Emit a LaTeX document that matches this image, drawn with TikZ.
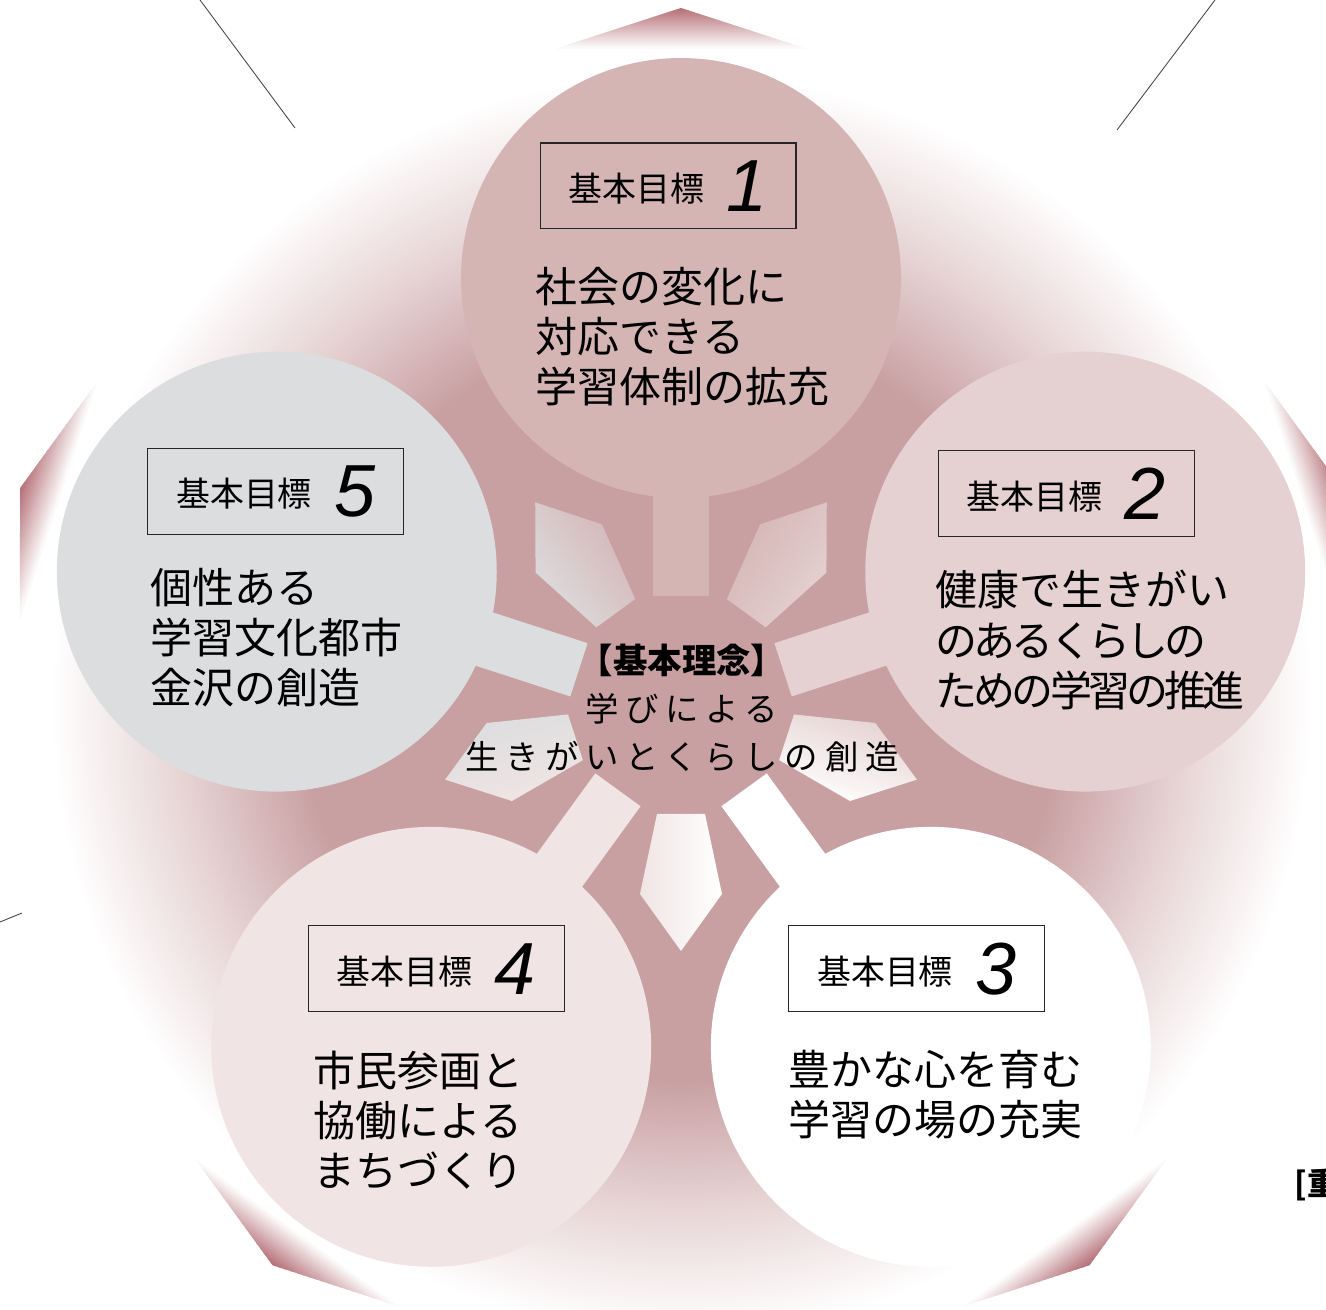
\documentclass[tikz,border=0pt]{standalone}
\usepackage{fontspec}
\usetikzlibrary{calc, backgrounds}

\newfontfamily\jpfont{Noto Sans CJK JP}
\newfontfamily\jpnarrow{Noto Sans CJK JP}[LetterSpace=-9]
\newfontfamily\creedfont{Noto Sans CJK JP}[LetterSpace=20]
\newfontfamily\numfont{Liberation Sans}

\definecolor{rosebg}{RGB}{201,160,162}
\definecolor{cornerred}{RGB}{181,114,120}
\definecolor{petalA}{RGB}{213,180,180}
\definecolor{petalB}{RGB}{229,209,209}
\definecolor{petalC}{RGB}{255,255,255}
\definecolor{petalD}{RGB}{240,229,228}
\definecolor{petalE}{RGB}{220,221,223}
\definecolor{leadergray}{RGB}{70,70,70}

\pgfdeclareradialshading{roseglow}{\pgfpoint{0bp}{0bp}}{%
  color(0bp)=(rosebg); color(15bp)=(rosebg); color(20bp)=(rosebg!45!white);
  color(25bp)=(white); color(50bp)=(white)}

\newcommand{\goalno}[1]{\raisebox{-2mm}{\numfont\itshape\fontsize{42}{42}\selectfont #1}}

\begin{document}
\begin{tikzpicture}[x=0.02cm, y=0.02cm,
  petal/.style={circle, minimum size=8.8cm, inner sep=0pt},
  hub/.style={circle, minimum size=4.28cm, inner sep=0pt},
  goalbox/.style={draw=black!85, line width=0.6pt, minimum width=5.12cm,
    minimum height=1.72cm, inner sep=0pt,
    font=\jpfont\fontsize{19.3}{22}\selectfont},
  aim/.style={align=left, inner sep=0pt, anchor=west,
    font=\jpfont\fontsize{23.9}{28.5}\selectfont},
  creed/.style={align=center, inner sep=0pt,
    font=\creedfont\fontsize{19}{27.3}\selectfont},
  spoke/.style={line width=1.12cm, shorten >=-0.4cm},
  leader/.style={draw=leadergray, line width=0.5pt}]

\useasboundingbox (0,0) rectangle (1326,1310);
\coordinate (C) at (681,607);

% five petals round the hub
\foreach \i/\ang/\col in {1/90/petalA, 2/18/petalB, 3/-54/petalC, 4/-126/petalD, 5/162/petalE} {
    \node[petal, fill=\col] (goal\i) at ($(C)+(\ang:425)$) {};
};
\node[hub] (hub) at (C) {};
\node[creed] (creed) at ([shift={(1,-5)}]hub.center)
    {{\jpfont\bfseries\fontsize{19.6}{27.3}\selectfont 【基本理念】}\\
     学びによる\\
     生きがいとくらしの創造};

% goal boxes
\node[goalbox] (box1) at ($(goal1)+(-13,92)$) {基本目標\hspace{4.5mm}\goalno{1}};
\node[goalbox] (box2) at ($(goal2)+(-19,78)$) {基本目標\hspace{4.5mm}\goalno{2}};
\node[goalbox] (box3) at ($(goal3)+(-14,78)$) {基本目標\hspace{4.5mm}\goalno{3}};
\node[goalbox] (box4) at ($(goal4)+(5,78)$) {基本目標\hspace{4.5mm}\goalno{4}};
\node[goalbox] (box5) at ($(goal5)+(-1,80)$) {基本目標\hspace{4.5mm}\goalno{5}};

% goal texts
\node[aim] (aim1) at (535,973) {社会の変化に\\対応できる\\学習体制の拡充};
\node[aim] (aim2) at (935,670) {健康で生きがい\\{\jpnarrow のあるくらしの}\\{\jpnarrow ための学習の推進}};
\node[aim] (aim3) at (788,215) {豊かな心を育む\\学習の場の充実};
\node[aim] (aim4) at (313,190) {市民参画と\\協働による\\まちづくり};
\node[aim] (aim5) at (150,672) {個性ある\\学習文化都市\\金沢の創造};

% leader lines cut by the page
\coordinate (leadNW) at (200,1310);
\coordinate (leadNWend) at (295,1182);
\coordinate (leadNE) at (1215,1310);
\coordinate (leadNEend) at (1117,1180);
\coordinate (leadW) at (0,388);
\coordinate (leadWend) at (22,397);
\draw[leader] (leadNW) -- (leadNWend);
\draw[leader] (leadNE) -- (leadNEend);
\draw[leader] (leadW) -- (leadWend);

\node[anchor=west, inner sep=0pt, font=\jpfont\bfseries\fontsize{18}{18}\selectfont]
    (sidenote) at (1294,125) {[重};

\begin{scope}[on background layer]
% dark corners of the decagon
\foreach \ang in {90,18,-54,-126,162} {
    \foreach \k in {0,...,19} {
        \pgfmathsetmacro\dIn{2*\k}
        \pgfmathsetmacro\dOut{2*\k+2.6}
        \pgfmathtruncatemacro\shadepct{100-5*\k}
        \fill[cornerred!\shadepct!white]
            ($(C)+(\ang:695-\dIn)+(\ang+90:3.08*\dIn)$) --
            ($(C)+(\ang:695-\dOut)+(\ang+90:3.08*\dOut)$) --
            ($(C)+(\ang:695-\dOut)+(\ang-90:3.08*\dOut)$) --
            ($(C)+(\ang:695-\dIn)+(\ang-90:3.08*\dIn)$) -- cycle;
    };
};

% rose glow
\shade[shading=roseglow] (C) circle (630);

% spokes from hub to petals
\foreach \i/\col in {1/petalA, 2/petalB, 3/petalC, 4/petalD, 5/petalE} {
    \draw[spoke, draw=\col] (hub) -- (goal\i);
};

% windows between the spokes
\foreach \ang/\colA/\colB in {126/petalE/petalA, 54/petalA/petalB, -18/petalB/petalC,
                              -90/petalC/petalD, -162/petalD/petalE} {
    \shade[top color=\colA, bottom color=\colB, shading angle=\ang]
        ($(C)+(\ang:111)+(\ang-90:24)$) -- ($(C)+(\ang:191)+(\ang-90:41)$) --
        ($(C)+(\ang:248)$) --
        ($(C)+(\ang:191)+(\ang+90:41)$) -- ($(C)+(\ang:111)+(\ang+90:24)$) -- cycle;
};
\end{scope}

\end{tikzpicture}
\end{document}
